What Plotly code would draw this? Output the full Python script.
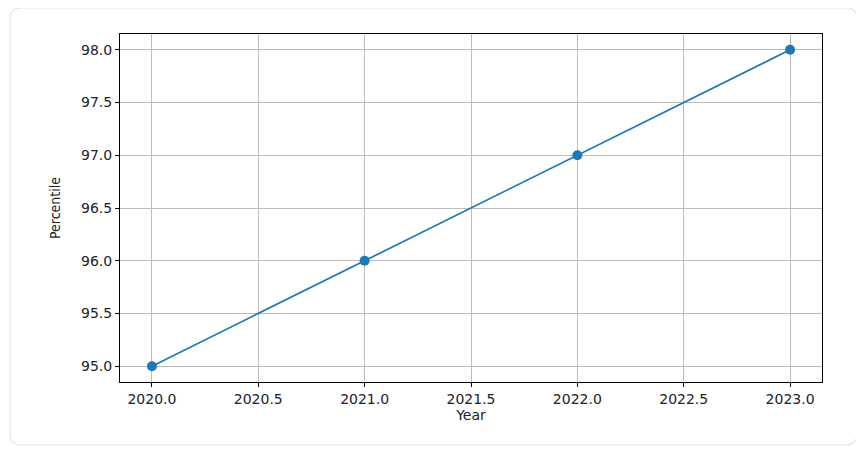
import plotly.graph_objects as go

##########
# Inputs #
##########

YEARS = [2020, 2021, 2022, 2023]
PERCENTILES = [95, 96, 97, 98]

X_TICKS = [2020.0, 2020.5, 2021.0, 2021.5, 2022.0, 2022.5, 2023.0]
Y_TICKS = [95.0, 95.5, 96.0, 96.5, 97.0, 97.5, 98.0]

X_LABEL = "Year"
Y_LABEL = "Percentile"

######################
# Maps and constants #
######################

LINE_COLOUR = "#1f77b4"
GRID_COLOUR = "#bdbdbd"
TEXT_COLOUR = "#222222"
CARD_BORDER_COLOUR = "#e6e6e6"

TICK_FONT = {"family": "DejaVu Sans, sans-serif", "size": 14, "color": TEXT_COLOUR}

# the page body adds an 8px offset, so margins are shifted by that
PAGE_OFFSET = 8
# plot area in screenshot pixels: x 120..822, y 34..382
PLOT_LEFT, PLOT_RIGHT, PLOT_TOP, PLOT_BOTTOM = 120, 822, 34, 382
PLOT_W = PLOT_RIGHT - PLOT_LEFT
PLOT_H = PLOT_BOTTOM - PLOT_TOP


def card_path(x0, y0, x1, y1, radius_px):
    # rounded rectangle in paper coordinates
    rx = radius_px / PLOT_W
    ry = radius_px / PLOT_H
    return (
        f"M {x0 + rx},{y0} L {x1 - rx},{y0} Q {x1},{y0} {x1},{y0 + ry} "
        f"L {x1},{y1 - ry} Q {x1},{y1} {x1 - rx},{y1} "
        f"L {x0 + rx},{y1} Q {x0},{y1} {x0},{y1 - ry} "
        f"L {x0},{y0 + ry} Q {x0},{y0} {x0 + rx},{y0} Z"
    )


##########
# Figure #
##########

fig = go.Figure()

fig.add_trace(
    go.Scatter(
        x=YEARS,
        y=PERCENTILES,
        mode="lines+markers",
        line={"color": LINE_COLOUR, "width": 1.7},
        marker={"color": LINE_COLOUR, "size": 10},
        showlegend=False,
    )
)

# light rounded card around the whole chart
fig.add_shape(
    type="path",
    xref="paper",
    yref="paper",
    path=card_path((10 - PLOT_LEFT) / PLOT_W, (PLOT_BOTTOM - 445) / PLOT_H,
                   (857 - PLOT_LEFT) / PLOT_W, (PLOT_BOTTOM - 8) / PLOT_H, 11),
    line={"color": CARD_BORDER_COLOUR, "width": 1.2},
    fillcolor="rgba(0,0,0,0)",
    layer="below",
)

axis_common = dict(
    showgrid=True,
    gridcolor=GRID_COLOUR,
    gridwidth=1,
    showline=True,
    linecolor="black",
    linewidth=1,
    mirror=True,
    ticks="outside",
    ticklen=4,
    tickwidth=1,
    tickcolor="black",
    tickfont=TICK_FONT,
    zeroline=False,
    tickformat=".1f",
    automargin=False,
)

fig.update_xaxes(
    range=[2019.85, 2023.15],
    tickvals=X_TICKS,
    title={"text": X_LABEL, "font": TICK_FONT, "standoff": 1},
    **axis_common,
)

fig.update_yaxes(
    range=[94.85, 98.15],
    tickvals=Y_TICKS,
    title={
        "text": Y_LABEL,
        "font": {"family": "DejaVu Sans Condensed, Liberation Sans Narrow, Roboto Condensed, sans-serif",
                 "size": 14, "color": TEXT_COLOUR},
        "standoff": 17,
    },
    **axis_common,
)

fig.update_layout(
    width=864,
    height=452,
    margin={
        "l": PLOT_LEFT - PAGE_OFFSET,
        "r": 864 - PLOT_RIGHT + PAGE_OFFSET,
        "t": PLOT_TOP - PAGE_OFFSET,
        "b": 452 - PLOT_BOTTOM + PAGE_OFFSET,
        "pad": 0,
    },
    paper_bgcolor="white",
    plot_bgcolor="white",
)

fig.write_html("out.html")
